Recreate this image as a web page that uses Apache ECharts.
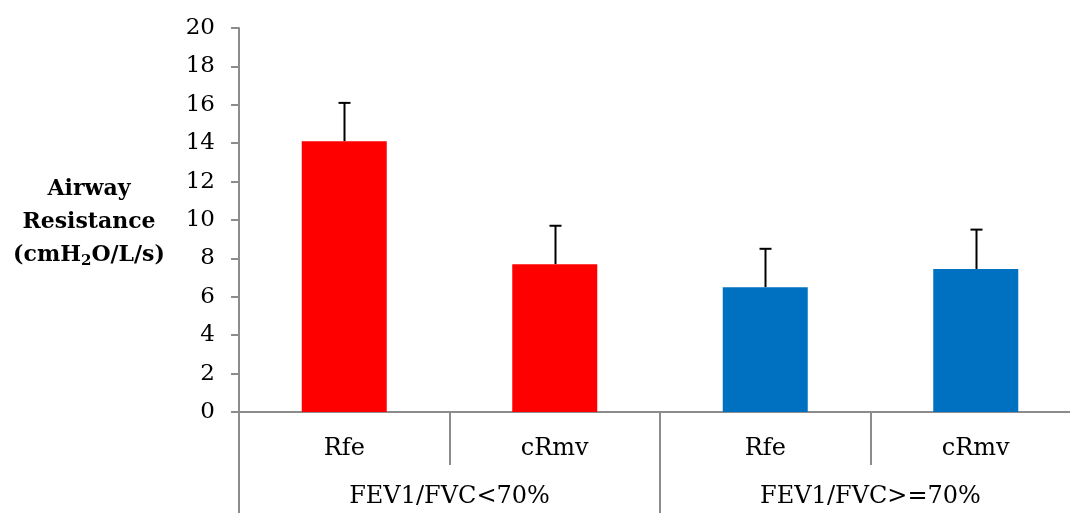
<!DOCTYPE html>
<html>
<head>
<meta charset="utf-8">
<script src="https://cdn.jsdelivr.net/npm/echarts@6/dist/echarts.min.js"></script>
<style>html,body{margin:0;padding:0;background:#fff;overflow:hidden}#c{width:1090px;height:513px}</style>
</head>
<body>
<div id="c"></div>
<script>
const categories = ['Rfe', 'cRmv', 'Rfe', 'cRmv'];
const groups = ['FEV1/FVC<70%', 'FEV1/FVC>=70%'];
const groupOfBar = [0, 0, 1, 1];
const means = [14.1, 7.7, 6.5, 7.45];
const errors = [2.0, 2.0, 2.0, 2.05];
const groupColors = ['#FF0000', '#0070C0'];
const yTicks = { min: 0, max: 20, interval: 2 };

const FONT = 'DejaVu Serif';
const chart = echarts.init(document.getElementById('c'));
chart.setOption({
  animation: false,
  grid: { left: 239, right: 9, top: 28, bottom: 101, containLabel: false },
  xAxis: [
    {
      type: 'category', data: categories, position: 'bottom',
      axisLine: { lineStyle: { color: '#8c8c8c', width: 2 } },
      axisTick: { show: true, interval: 0, length: 53, lineStyle: { color: '#8c8c8c', width: 2 } },
      axisLabel: { interval: 0, margin: 25, fontFamily: FONT, fontSize: 24, color: '#000' }
    },
    {
      type: 'category', data: groups, position: 'bottom', offset: 0,
      axisLine: { show: false },
      axisTick: { show: true, interval: 0, length: 120, lineStyle: { color: '#8c8c8c', width: 2 } },
      axisLabel: { interval: 0, margin: 73, fontFamily: FONT, fontSize: 24, color: '#000' }
    }
  ],
  yAxis: {
    type: 'value', min: yTicks.min, max: yTicks.max, interval: yTicks.interval,
    splitLine: { show: false },
    axisLine: { show: true, lineStyle: { color: '#8c8c8c', width: 2 } },
    axisTick: { show: true, length: 8, lineStyle: { color: '#8c8c8c', width: 2 } },
    axisLabel: { margin: 24, fontFamily: FONT, fontSize: 23, color: '#000' }
  },
  series: [
    {
      type: 'custom', xAxisIndex: 0, z: 1,
      data: means.map((m, i) => [i, m, m + errors[i]]),
      renderItem: function (params, api) {
        const base = api.coord([api.value(0), api.value(1)]);
        const top = api.coord([api.value(0), api.value(2)]);
        const x = Math.round(base[0]) + 0.5;
        return {
          type: 'group',
          children: [
            { type: 'line', shape: { x1: x, y1: base[1], x2: x, y2: top[1] }, style: { stroke: '#000', lineWidth: 2 } },
            { type: 'line', shape: { x1: x - 6, y1: top[1], x2: x + 6, y2: top[1] }, style: { stroke: '#000', lineWidth: 2 } }
          ]
        };
      }
    },
    {
      type: 'bar', xAxisIndex: 0, barWidth: 85, z: 2,
      data: means.map((m, i) => ({ value: m, itemStyle: { color: groupColors[groupOfBar[i]] } }))
    }
  ],
  graphic: [
    {
      type: 'text', x: 89, y: 222,
      style: {
        text: '{b|Airway}\n{b|Resistance}\n{b|(cmH}{s|2}{b|O/L/s)}',
        align: 'center', verticalAlign: 'middle',
        rich: {
          b: { fontFamily: FONT, fontWeight: 'bold', fontSize: 22, lineHeight: 33, fill: '#000' },
          s: { fontFamily: FONT, fontWeight: 'bold', fontSize: 15, lineHeight: 15, verticalAlign: 'bottom', padding: [0, 0, 3, 0], fill: '#000' }
        }
      }
    }
  ]
});
</script>
</body>
</html>
